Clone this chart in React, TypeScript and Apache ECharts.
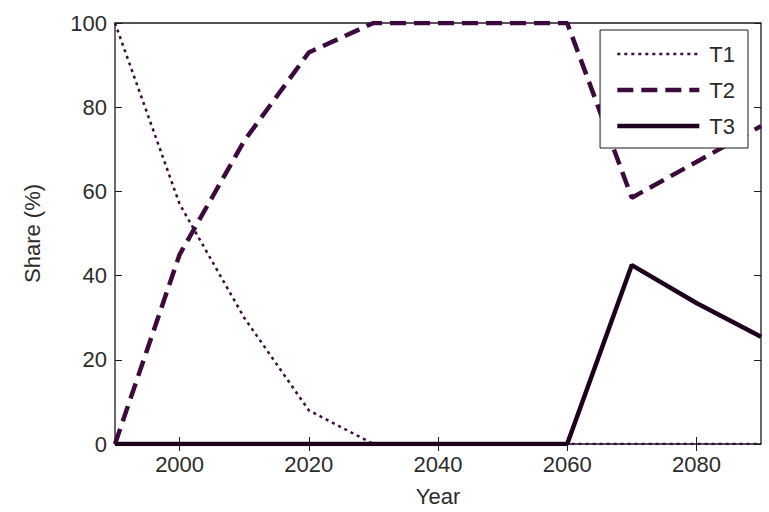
import React, { useEffect, useRef } from "react";
import * as echarts from "echarts";

const years = [1990, 2000, 2010, 2020, 2030, 2040, 2050, 2060, 2070, 2080, 2090];
const t1 = [100, 57, 30, 8, 0, 0, 0, 0, 0, 0, 0];
const t2 = [0, 45, 72, 93, 100, 100, 100, 100, 58.5, 67, 75.5];
const t3 = [0, 0, 0, 0, 0, 0, 0, 0, 42.5, 33.5, 25.5];
const xTicks = [2000, 2020, 2040, 2060, 2080];
const seriesNames = ["T1", "T2", "T3"];

const FONT = "'Liberation Sans', Arial, sans-serif";
const TXT = "#2b2b2b";
const PURPLE = "#3c0a3c";
const DARK = "#1c001c";

const styles: Record<string, { color: string; width: number; type: any }> = {
  T1: { color: PURPLE, width: 2.5, type: [3, 4] },
  T2: { color: PURPLE, width: 4.5, type: [16, 8] },
  T3: { color: DARK, width: 4.5, type: "solid" },
};

export default function App() {
  const ref = useRef<HTMLDivElement>(null);
  useEffect(() => {
    if (!ref.current) return;
    const chart = echarts.init(ref.current, undefined, { renderer: "svg" });
    const pair = (arr: number[]) => years.map((y, i) => [y, arr[i]]);
    const xBase = {
      type: "value" as const,
      min: 1990,
      max: 2090,
      splitLine: { show: false },
      axisLine: { show: false },
    };
    const yBase = {
      type: "value" as const,
      min: 0,
      max: 100,
      interval: 20,
      splitLine: { show: false },
      axisLine: { show: false },
    };
    const dataArrs: Record<string, number[]> = { T1: t1, T2: t2, T3: t3 };
    chart.setOption({
      animation: false,
      backgroundColor: "#ffffff",
      textStyle: { fontFamily: FONT },
      grid: {
        left: 115,
        right: 8,
        top: 23,
        bottom: 67,
        show: true,
        borderColor: "#1a1a1a",
        borderWidth: 1.3,
        backgroundColor: "transparent",
      },
      legend: {
        data: seriesNames.map((n) => ({ name: n, lineStyle: { ...styles[n] } })),
        right: 21,
        top: 30,
        orient: "vertical",
        align: "left",
        itemWidth: 82,
        itemHeight: 20,
        itemGap: 14,
        padding: [13, 13, 11, 15],
        borderColor: "#1a1a1a",
        borderWidth: 1,
        backgroundColor: "#ffffff",
        itemStyle: { opacity: 0 },
        textStyle: { fontFamily: FONT, fontSize: 22, color: TXT, padding: [0, 0, 0, 5] },
      },
      xAxis: [
        {
          ...xBase,
          position: "bottom",
          name: "Year",
          nameLocation: "middle",
          nameGap: 41,
          nameTextStyle: { fontFamily: FONT, fontSize: 22, color: TXT },
          axisTick: { show: true, inside: true, length: 7, customValues: xTicks, lineStyle: { color: "#1a1a1a" } },
          axisLabel: {
            show: true,
            customValues: xTicks,
            margin: 9,
            fontFamily: FONT,
            fontSize: 22,
            color: TXT,
            formatter: (v: number) => String(v),
          },
        },
        {
          ...xBase,
          position: "top",
          axisTick: { show: true, inside: true, length: 7, customValues: xTicks, lineStyle: { color: "#1a1a1a" } },
          axisLabel: { show: false },
        },
      ],
      yAxis: [
        {
          ...yBase,
          position: "left",
          name: "Share (%)",
          nameLocation: "middle",
          nameGap: 72,
          nameTextStyle: { fontFamily: FONT, fontSize: 22, color: TXT },
          axisTick: { show: true, inside: true, length: 7, lineStyle: { color: "#1a1a1a" } },
          axisLabel: { show: true, margin: 8, fontFamily: FONT, fontSize: 22, color: TXT },
        },
        {
          ...yBase,
          position: "right",
          axisTick: { show: true, inside: true, length: 7, lineStyle: { color: "#1a1a1a" } },
          axisLabel: { show: false },
        },
      ],
      series: seriesNames.map((n, i) => ({
        name: n,
        type: "line",
        data: pair(dataArrs[n]),
        symbol: "none",
        color: styles[n].color,
        lineStyle: { ...styles[n] },
        z: 2 + i,
      })),
    });
    return () => chart.dispose();
  }, []);
  return <div ref={ref} style={{ width: 769, height: 512, position: "absolute", left: 0, top: 0 }} />;
}
